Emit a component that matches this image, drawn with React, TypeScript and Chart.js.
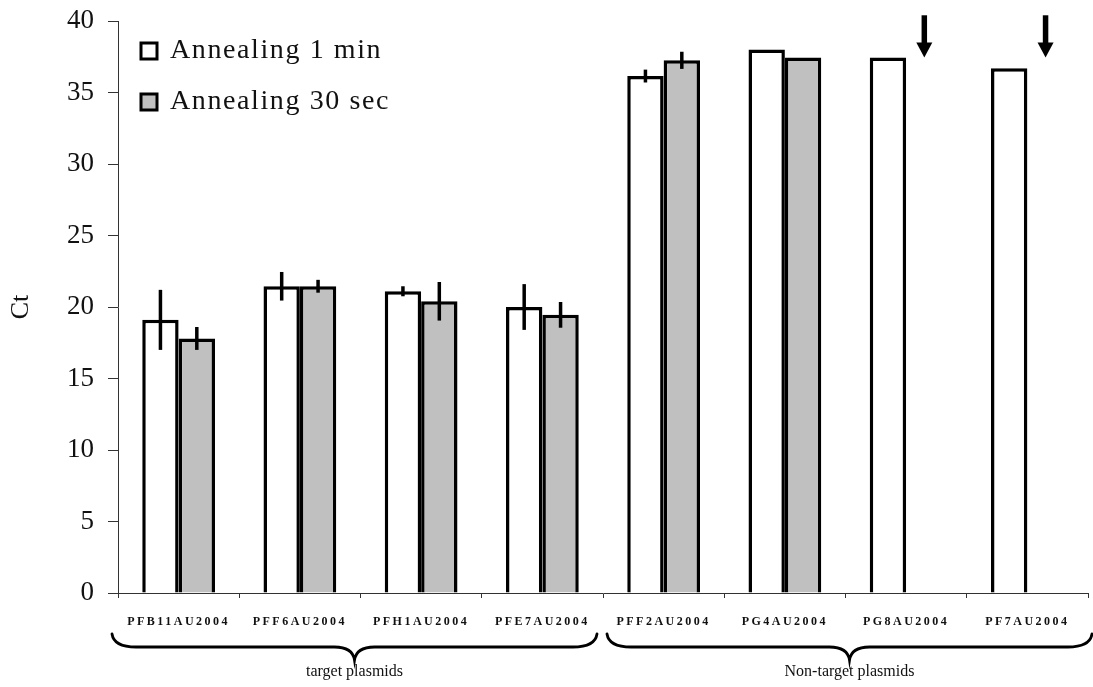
import React, { useEffect, useRef } from "react";
import { Chart, registerables } from "chart.js";

Chart.register(...registerables);

const categories = [
  "PFB11AU2004",
  "PFF6AU2004",
  "PFH1AU2004",
  "PFE7AU2004",
  "PFF2AU2004",
  "PG4AU2004",
  "PG8AU2004",
  "PF7AU2004",
];
const oneMin = [19.1, 21.45, 21.1, 20.0, 36.15, 38.0, 37.45, 36.7];
const oneMinErr = [2.1, 1.0, 0.35, 1.6, 0.45, 0, 0, 0];
const thirtySec = [17.8, 21.45, 20.4, 19.45, 37.25, 37.45, null, null];
const thirtySecErr = [0.8, 0.45, 1.35, 0.9, 0.6, 0, null, null];
const seriesLabels = ["Annealing 1 min", "Annealing 30 sec"];
const yMin = 0;
const yMax = 40;
const yStep = 5;
const groupLabels = ["target plasmids", "Non-target plasmids"];
const groupFirst = ["PFB11AU2004", "PFF2AU2004"];
const groupLast = ["PFE7AU2004", "PF7AU2004"];
const arrowCategories = ["PG8AU2004", "PF7AU2004"];
const arrowTop = 40.4;
const arrowTip = 37.45;

const SERIF = "'Liberation Serif', 'Times New Roman', serif";

const errorBarPlugin = {
  id: "errorBars",
  afterDatasetsDraw(chart: any) {
    const ctx = chart.ctx;
    const y = chart.scales.y;
    ctx.save();
    ctx.strokeStyle = "#000";
    ctx.lineWidth = 3.5;
    chart.data.datasets.forEach((ds: any, i: number) => {
      const meta = chart.getDatasetMeta(i);
      const errs = ds.errors || [];
      meta.data.forEach((el: any, j: number) => {
        const v = ds.data[j];
        const e = errs[j];
        if (v == null || !e) return;
        ctx.beginPath();
        ctx.moveTo(el.x, y.getPixelForValue(v + e));
        ctx.lineTo(el.x, y.getPixelForValue(v - e));
        ctx.stroke();
      });
    });
    ctx.restore();
  },
};

const annotationPlugin = {
  id: "annotations",
  beforeDraw(chart: any) {
    const s = chart.scales.x;
    if (s && !s.__spaced) {
      const orig = s.drawLabels.bind(s);
      s.drawLabels = (ca: any) => {
        const c = chart.ctx;
        c.save();
        (c as any).letterSpacing = "2.5px";
        orig(ca);
        c.restore();
      };
      s.__spaced = true;
    }
  },
  afterDraw(chart: any) {
    const ctx = chart.ctx;
    const x = chart.scales.x;
    const y = chart.scales.y;
    const half = (x.getPixelForValue(1) - x.getPixelForValue(0)) / 2;

    // arrows over the missing grey bars
    const meta1 = chart.getDatasetMeta(1);
    ctx.save();
    ctx.fillStyle = "#000";
    ctx.strokeStyle = "#000";
    arrowCategories.forEach((cat) => {
      const idx = categories.indexOf(cat);
      const el = meta1.data[idx];
      const ax = el ? el.x : x.getPixelForValue(idx) + half * 0.3;
      const yt = y.getPixelForValue(arrowTop);
      const yb = y.getPixelForValue(arrowTip);
      const head = 15;
      ctx.lineWidth = 5.5;
      ctx.beginPath();
      ctx.moveTo(ax, yt);
      ctx.lineTo(ax, yb - head + 1);
      ctx.stroke();
      ctx.beginPath();
      ctx.moveTo(ax - 8, yb - head);
      ctx.lineTo(ax + 8, yb - head);
      ctx.lineTo(ax, yb);
      ctx.closePath();
      ctx.fill();
    });
    ctx.restore();

    // braces + group labels
    ctx.save();
    ctx.strokeStyle = "#000";
    ctx.lineWidth = 2.8;
    ctx.lineCap = "round";
    groupLabels.forEach((lab, g) => {
      const shift = g === 0 ? -6 : 4;
      const x0 = x.getPixelForValue(categories.indexOf(groupFirst[g])) - half + shift;
      const x1 = x.getPixelForValue(categories.indexOf(groupLast[g])) + half + shift;
      const xm = (x0 + x1) / 2;
      const y0 = 634;
      const y1 = 647;
      const y2 = 660;
      ctx.beginPath();
      ctx.moveTo(x0, y0);
      ctx.quadraticCurveTo(x0 + 2, y1, x0 + 24, y1);
      ctx.lineTo(xm - 20, y1);
      ctx.quadraticCurveTo(xm - 2, y1, xm, y2);
      ctx.quadraticCurveTo(xm + 2, y1, xm + 20, y1);
      ctx.lineTo(x1 - 24, y1);
      ctx.quadraticCurveTo(x1 - 2, y1, x1, y0);
      ctx.stroke();
      ctx.fillStyle = "#111";
      ctx.font = `16px ${SERIF}`;
      ctx.textAlign = "center";
      ctx.textBaseline = "middle";
      ctx.fillText(lab, xm, 672);
    });
    ctx.restore();

    // legend inside plot area
    ctx.save();
    chart.data.datasets.forEach((ds: any, i: number) => {
      const bx = 141;
      const by = 43 + i * 51;
      ctx.fillStyle = ds.backgroundColor;
      ctx.fillRect(bx, by, 16, 16);
      ctx.strokeStyle = "#000";
      ctx.lineWidth = 3;
      ctx.strokeRect(bx, by, 16, 16);
      ctx.fillStyle = "#111";
      ctx.font = `28px ${SERIF}`;
      (ctx as any).letterSpacing = "1.6px";
      ctx.textAlign = "left";
      ctx.textBaseline = "middle";
      ctx.fillText(ds.label, 170, by + 8);
    });
    ctx.restore();
  },
};

export default function App() {
  const ref = useRef<HTMLCanvasElement | null>(null);
  useEffect(() => {
    if (!ref.current) return;
    const chart = new Chart(ref.current, {
      type: "bar",
      data: {
        labels: categories,
        datasets: [
          {
            label: seriesLabels[0],
            data: oneMin,
            backgroundColor: "#ffffff",
            borderColor: "#000000",
            borderWidth: 3.5,
            errors: oneMinErr,
          } as any,
          {
            label: seriesLabels[1],
            data: thirtySec,
            backgroundColor: "#c0c0c0",
            borderColor: "#000000",
            borderWidth: 3.5,
            errors: thirtySecErr,
          } as any,
        ],
      },
      options: {
        animation: false,
        responsive: true,
        maintainAspectRatio: false,
        layout: { padding: { top: 21, right: 5, left: 0, bottom: 0 } },
        datasets: { bar: { categoryPercentage: 0.6, barPercentage: 1.0 } },
        plugins: { legend: { display: false }, tooltip: { enabled: false } },
        scales: {
          x: {
            offset: true,
            grid: {
              offset: true,
              drawOnChartArea: false,
              drawTicks: true,
              tickLength: 5,
              color: "#333",
            },
            border: { display: true, color: "#333", width: 1 },
            ticks: {
              color: "#111",
              font: { family: SERIF, size: 12, weight: "bold" },
              padding: 17,
              maxRotation: 0,
              autoSkip: false,
            },
            afterFit: (s: any) => {
              s.height = 94;
              s.paddingLeft = 0;
              s.paddingRight = 0;
            },
          },
          y: {
            min: yMin,
            max: yMax,
            ticks: {
              stepSize: yStep,
              color: "#111",
              font: { family: SERIF, size: 27 },
              padding: 14,
            },
            grid: {
              drawOnChartArea: false,
              drawTicks: true,
              tickLength: 10,
              color: "#333",
            },
            border: { display: true, color: "#333", width: 1 },
            title: {
              display: true,
              text: "Ct",
              color: "#111",
              font: { family: SERIF, size: 26 },
              padding: { top: 6, bottom: 0 },
            },
            afterFit: (s: any) => {
              s.width = 118;
              s.paddingTop = 0;
              s.paddingBottom = 0;
            },
          },
        },
      },
      plugins: [errorBarPlugin, annotationPlugin],
    });
    return () => chart.destroy();
  }, []);
  return (
    <div style={{ position: "fixed", left: 0, top: 0, width: 1093, height: 687, background: "#fff" }}>
      <canvas ref={ref} />
    </div>
  );
}
